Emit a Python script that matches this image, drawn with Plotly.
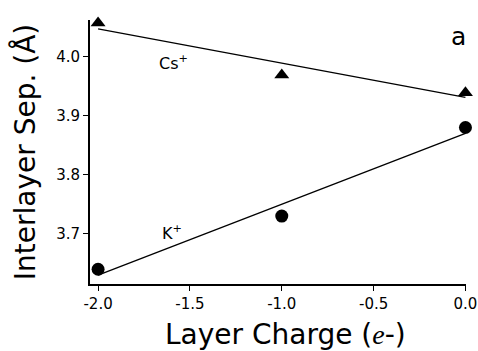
import plotly.graph_objects as go

charge = [-2.0, -1.0, 0.0]
cs_sep = [4.057, 3.969, 3.939]
k_sep = [3.640, 3.730, 3.880]
fit_x = [-2.0, 0.0]
cs_fit = [4.047, 3.931]
k_fit = [3.630, 3.870]
x_ticks = [-2.0, -1.5, -1.0, -0.5, 0.0]
x_ticklabels = ["-2.0", "-1.5", "-1.0", "-0.5", "0.0"]
y_ticks = [3.7, 3.8, 3.9, 4.0]
y_ticklabels = ["3.7", "3.8", "3.9", "4.0"]

FONT = "DejaVu Sans"

fig = go.Figure()
fig.add_trace(go.Scatter(x=fit_x, y=cs_fit, mode="lines",
                         line=dict(color="black", width=1.3), showlegend=False))
fig.add_trace(go.Scatter(x=fit_x, y=k_fit, mode="lines",
                         line=dict(color="black", width=1.3), showlegend=False))
fig.add_trace(go.Scatter(x=charge, y=cs_sep, mode="markers",
                         marker=dict(symbol="triangle-up", size=13, color="black"),
                         cliponaxis=False, showlegend=False))
fig.add_trace(go.Scatter(x=charge, y=k_sep, mode="markers",
                         marker=dict(symbol="circle", size=13, color="black"),
                         cliponaxis=False, showlegend=False))

fig.add_annotation(x=-1.59, y=3.990, text="Cs<sup>+</sup>", showarrow=False,
                   font=dict(family=FONT, size=16, color="black"))
fig.add_annotation(x=-1.60, y=3.702, text="K<sup>+</sup>", showarrow=False,
                   font=dict(family=FONT, size=16, color="black"))
fig.add_annotation(xref="paper", yref="paper", x=1.005, y=1.0, text="a",
                   showarrow=False, xanchor="right", yanchor="top",
                   font=dict(family=FONT, size=25, color="black"))
# x-axis title
fig.add_annotation(xref="paper", yref="paper", x=0.519, y=-0.19,
                   text="Layer Charge (<i><span style='font-family:Liberation Serif'>e</span></i>-)",
                   showarrow=False, xanchor="center", yanchor="middle",
                   font=dict(family=FONT, size=28, color="black"))

fig.update_layout(
    width=478, height=351,
    margin=dict(l=90, r=12, t=20, b=67),
    paper_bgcolor="white", plot_bgcolor="white",
    font=dict(family=FONT, color="black"),
    xaxis=dict(range=[-2.044, 0.003], tickvals=x_ticks, ticktext=x_ticklabels,
               ticks="outside", ticklen=5, tickwidth=1.2, tickcolor="black",
               showline=True, linecolor="black", linewidth=2, showgrid=False,
               zeroline=False, tickfont=dict(family=FONT, size=15), automargin=False),
    yaxis=dict(range=[3.615, 4.062], tickvals=y_ticks, ticktext=y_ticklabels,
               ticks="outside", ticklen=5, tickwidth=1.2, tickcolor="black",
               showline=True, linecolor="black", linewidth=2, showgrid=False,
               zeroline=False, tickfont=dict(family=FONT, size=15), automargin=False,
               title=dict(text="Interlayer Sep. (Å)",
                          font=dict(family=FONT, size=28), standoff=12)),
)

page_fix = ("document.body.style.margin='0';"
            "document.body.style.overflow='hidden';"
            "document.documentElement.style.overflow='hidden';")
fig.write_html("out.html", post_script=page_fix, config={"displayModeBar": False})
